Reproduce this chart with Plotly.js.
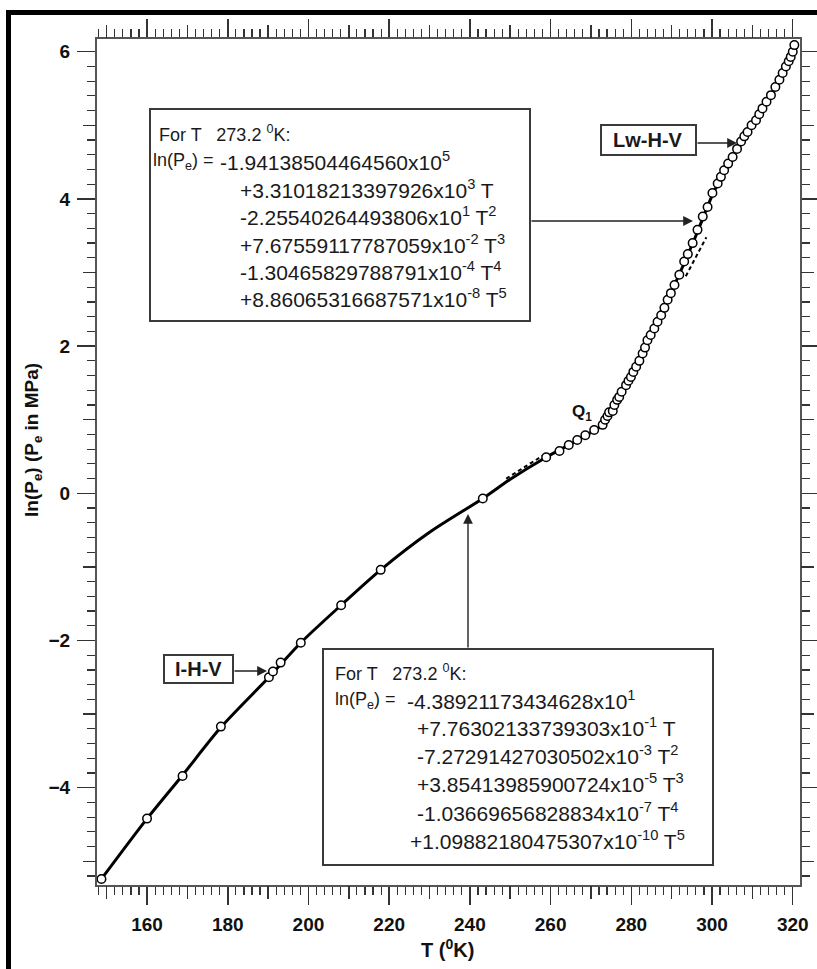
<!DOCTYPE html>
<html><head><meta charset="utf-8">
<script src="https://cdn.plot.ly/plotly-3.0.1.min.js"></script>
<style>body{margin:0;background:#fff}#chart{width:817px;height:969px}</style>
</head><body><div id="chart"></div>
<script>
// ---- data ----
const T_ihv_line   = [148.7, 160.0, 168.8, 178.3, 190.2, 198.1, 208.1, 217.9, 230.0, 243.2, 250.0, 258.9, 266.6, 273.2];
const lnP_ihv_line = [-5.24, -4.42, -3.83, -3.18, -2.50, -2.03, -1.52, -1.04, -0.53, -0.07, 0.19, 0.49, 0.72, 0.93];

const T_lwhv_line   = [273.2, 276.0, 280.0, 284.0, 288.0, 292.0, 296.0, 300.0, 304.0, 308.0, 312.0, 316.0, 320.4];
const lnP_lwhv_line = [0.95, 1.22, 1.62, 2.07, 2.52, 2.99, 3.50, 4.04, 4.47, 4.85, 5.19, 5.55, 6.09];

const T_ihv_pts   = [148.7, 160.0, 168.8, 178.3, 190.2, 191.2, 193.1, 198.1, 208.1, 217.9, 243.2, 258.9, 262.2, 264.5, 266.6, 268.6, 270.8, 272.9];
const lnP_ihv_pts = [-5.24, -4.42, -3.84, -3.17, -2.50, -2.42, -2.30, -2.03, -1.52, -1.04, -0.07, 0.49, 0.575, 0.656, 0.724, 0.79, 0.86, 0.93];

const T_lwhv_pts = [273.5, 274.1, 274.5, 275.4, 275.8, 276.5, 277.0, 277.6, 278.7, 279.3, 279.9, 280.5, 281.2, 282.0, 282.8, 283.4,
  284.0, 284.8, 285.7, 286.5, 287.4, 288.2, 289.0, 289.8, 290.7, 291.9, 293.1, 294.0, 295.2, 296.4, 297.7, 298.9, 300.1, 301.4,
  302.2, 303.0, 304.0, 305.1, 306.2, 307.2, 308.0, 308.8, 309.8, 310.9, 311.7, 312.5, 313.5, 314.6, 315.7, 316.7, 317.5, 318.3,
  319.0, 319.5, 320.0, 320.4];
const lnP_lwhv_pts = [1.00, 1.05, 1.10, 1.12, 1.20, 1.27, 1.31, 1.38, 1.47, 1.53, 1.58, 1.65, 1.72, 1.80, 1.90, 1.98,
  2.08, 2.15, 2.24, 2.33, 2.42, 2.52, 2.63, 2.72, 2.83, 2.97, 3.15, 3.25, 3.40, 3.58, 3.76, 3.89, 4.08, 4.21,
  4.30, 4.39, 4.48, 4.57, 4.68, 4.78, 4.85, 4.91, 5.00, 5.07, 5.15, 5.23, 5.32, 5.41, 5.52, 5.62, 5.71, 5.80,
  5.87, 5.93, 6.00, 6.09];

// short dashed pieces visible beside the curve
const T_dash   = [249.0, 253.0, 258.0, null, 293.5, 296.0, 298.6];
const lnP_dash = [0.20, 0.34, 0.51, null, 2.95, 3.22, 3.48];

// axis ticks
const xMajor = [160, 180, 200, 220, 240, 260, 280, 300, 320];
const xMid   = [150, 170, 190, 210, 230, 250, 270, 290, 310];
const yMajor = [-4, -2, 0, 2, 4, 6];
const yMid   = [-5, -3, -1, 1, 3, 5];

// text
const eqUpper = [
  "+3.31018213397926x10<sup>3</sup> T",
  "-2.25540264493806x10<sup>1</sup> T<sup>2</sup>",
  "+7.67559117787059x10<sup>-2</sup> T<sup>3</sup>",
  "-1.30465829788791x10<sup>-4</sup> T<sup>4</sup>",
  "+8.86065316687571x10<sup>-8</sup> T<sup>5</sup>"];
const eqUpperC0 = "-1.94138504464560x10<sup>5</sup>";
const eqLower = [
  "+7.76302133739303x10<sup>-1</sup> T",
  "-7.27291427030502x10<sup>-3</sup> T<sup>2</sup>",
  "+3.85413985900724x10<sup>-5</sup> T<sup>3</sup>",
  "-1.03669656828834x10<sup>-7</sup> T<sup>4</sup>",
  "+1.09882180475307x10<sup>-10</sup> T<sup>5</sup>"];
const eqLowerC0 = "-4.38921173434628x10<sup>1</sup>";
const condText = "For T &nbsp;&nbsp;273.2 <sup>0</sup>K:";
const lnText = "ln(P<sub>e</sub>) =";

// ---- layout helpers (pixel -> paper) ----
const L = 97, R = 800, TP = 39, B = 885;
const px = v => (v - L) / (R - L);
const py = v => (B - v) / (B - TP);
const FAM = "Liberation Sans, Arial, Helvetica, sans-serif";

function txt(text, x, y, size, opts) {
  return Object.assign({xref:'paper', yref:'paper', x:px(x), y:py(y), text:text, showarrow:false,
    xanchor:'left', yanchor:'middle', font:{family:FAM, size:size, color:'#1a1a1a'}}, opts || {});
}
function arrow(tx, ty, sx, sy) {
  return {xref:'paper', yref:'paper', x:px(tx), y:py(ty), ax:sx - tx, ay:sy - ty, axref:'pixel', ayref:'pixel',
    text:'', showarrow:true, arrowhead:2, arrowsize:1.4, arrowwidth:1.4, arrowcolor:'#222', standoff:0};
}
function rect(x0, y0, x1, y1, lw, fill) {
  return {type:'rect', xref:'paper', yref:'paper', x0:px(x0), x1:px(x1), y0:py(y1), y1:py(y0),
    line:{color:'#3a3a3a', width:lw}, fillcolor: fill, layer:'above'};
}

const annotations = [];
// upper box text
annotations.push(txt(condText, 157, 133, 18));
annotations.push(txt(lnText, 151, 161, 18));
annotations.push(txt(eqUpperC0, 218, 161, 21));
eqUpper.forEach((s, i) => annotations.push(txt(s, 238, 189 + i * 27.3, 21)));
// lower box text
annotations.push(txt(condText, 333, 672, 18));
annotations.push(txt(lnText, 333, 700, 18));
annotations.push(txt(eqLowerC0, 405, 700, 21));
eqLower.forEach((s, i) => annotations.push(txt(s, i === 4 ? 408 : 415, 727 + i * 28.2, 21)));
// labels
annotations.push(txt("<b>Lw-H-V</b>", 648, 140, 20, {xanchor:'center'}));
annotations.push(txt("<b>I-H-V</b>", 198, 669, 20, {xanchor:'center'}));
annotations.push(txt("Q<sub>1</sub>", 582, 413, 17, {xanchor:'center', font:{family:FAM, size:17, color:'#111', weight:'bold'}}));
// axis titles
annotations.push(txt("T (<sup>0</sup>K)", 447, 948, 20, {xanchor:'center', font:{family:FAM, size:20, color:'#111', weight:'bold'}}));
annotations.push(txt("ln(P<sub>e</sub>) (P<sub>e</sub> in MPa)", 33, 440, 19, {xanchor:'center', textangle:-90, font:{family:FAM, size:19, color:'#111', weight:'bold'}}));
// arrows
annotations.push(arrow(693, 221, 530, 221));
annotations.push(arrow(737, 143, 696, 143));
annotations.push(arrow(267, 671, 233, 671));
annotations.push(arrow(468, 514, 468, 649));

const shapes = [
  rect(150, 109, 530, 321, 2, 'white'),
  rect(323, 649, 713, 865, 2, 'white'),
  rect(601, 125, 696, 155, 2, 'white'),
  rect(164, 655, 233, 683, 2, 'white'),
  // outer black frame
  {type:'rect', xref:'paper', yref:'paper', x0:px(6), x1:px(11), y0:py(969), y1:py(10), line:{width:0}, fillcolor:'black', layer:'above'},
  {type:'rect', xref:'paper', yref:'paper', x0:px(6), x1:px(817), y0:py(15), y1:py(10), line:{width:0}, fillcolor:'black', layer:'above'}
];

const xr = [147.6, 321.8], yr = [-5.322, 6.173];
const tickFont = {family:FAM, size:19, color:'#111', weight:'bold'};

const traces = [
  {x:T_ihv_line, y:lnP_ihv_line, mode:'lines', line:{color:'black', width:3, shape:'spline', smoothing:0.8}, hoverinfo:'skip'},
  {x:T_lwhv_line, y:lnP_lwhv_line, mode:'lines', line:{color:'black', width:3, shape:'spline', smoothing:0.8}, hoverinfo:'skip'},
  {x:T_dash, y:lnP_dash, mode:'lines', line:{color:'black', width:2, dash:'4px,3px'}, hoverinfo:'skip'},
  {x:T_ihv_pts, y:lnP_ihv_pts, mode:'markers', marker:{symbol:'circle', size:8.5, color:'white', line:{color:'black', width:1.5}}},
  {x:T_lwhv_pts, y:lnP_lwhv_pts, mode:'markers', marker:{symbol:'circle', size:8.5, color:'white', line:{color:'black', width:1.5}}},
  {x:[], y:[], xaxis:'x2', yaxis:'y2', mode:'markers'}
];

const layout = {
  width:817, height:969, paper_bgcolor:'white', plot_bgcolor:'white', showlegend:false,
  margin:{l:L, r:817 - R, t:TP, b:969 - B},
  xaxis:{range:xr, tickvals:xMajor, ticks:'outside', ticklen:18, tickwidth:1.5, tickcolor:'#333',
    showline:true, linecolor:'#555', linewidth:2, mirror:'allticks', showgrid:false, zeroline:false,
    tickfont:tickFont, ticklabelstandoff:3,
    minor:{dtick:2, tick0:0, ticks:'outside', ticklen:8, tickwidth:1.2, tickcolor:'#333', showgrid:false}},
  yaxis:{range:yr, tickvals:yMajor, ticks:'outside', ticklen:18, tickwidth:1.5, tickcolor:'#333',
    showline:true, linecolor:'#555', linewidth:2, mirror:'allticks', showgrid:false, zeroline:false,
    tickfont:tickFont, ticklabelstandoff:3,
    minor:{dtick:0.2, tick0:0, ticks:'outside', ticklen:8, tickwidth:1.2, tickcolor:'#333', showgrid:false}},
  xaxis2:{range:xr, overlaying:'x', anchor:'y2', side:'bottom', tickvals:xMid, ticks:'outside', ticklen:13,
    tickwidth:1.5, tickcolor:'#333', showticklabels:false, showline:false, mirror:'ticks', showgrid:false, zeroline:false},
  yaxis2:{range:yr, overlaying:'y', anchor:'x2', side:'left', tickvals:yMid, ticks:'outside', ticklen:13,
    tickwidth:1.5, tickcolor:'#333', showticklabels:false, showline:false, mirror:'ticks', showgrid:false, zeroline:false},
  annotations:annotations, shapes:shapes
};

Plotly.newPlot('chart', traces, layout, {staticPlot:true, displayModeBar:false});
</script></body></html>
